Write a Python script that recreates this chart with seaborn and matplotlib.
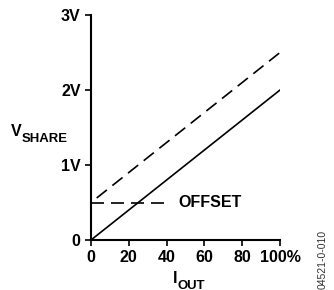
import pandas as pd
import seaborn as sns
import matplotlib.pyplot as plt

# data
iout = [0, 100]
vshare = [0.0, 2.0]
iout_offset = [3, 100]
vshare_offset = [0.56, 2.5]
offset_x = [0, 41]
offset_y = [0.5, 0.5]
x_ticks = [0, 20, 40, 60, 80, 100]
x_labels = ['0', '20', '40', '60', '80', '100%']
y_ticks = [0, 1, 2, 3]
y_labels = ['0', '1V', '2V', '3V']


def label_with_sub(fig, x, y, main, sub, fs):
    # main letter plus a bold subscript set just below its baseline
    t = fig.text(x, y, main, fontsize=fs, fontweight='bold', color='black',
                 ha='left', va='baseline')
    fig.axes[0].annotate(sub, xy=(1, 0), xycoords=t, xytext=(0.3, -1.8),
                         textcoords='offset points', fontsize=fs * 0.82,
                         fontweight='bold', color='black', ha='left',
                         va='baseline', annotation_clip=False)


def main():
    sns.set_style('white')
    plt.rcParams['font.family'] = ['Liberation Sans', 'DejaVu Sans']

    fig = plt.figure(figsize=(3.34, 2.90), dpi=100)
    ax = fig.add_axes([0.2725, 0.1724, 0.5659, 0.7759])

    df = pd.DataFrame({'x': iout, 'y': vshare})
    df_off = pd.DataFrame({'x': iout_offset, 'y': vshare_offset})
    df_lvl = pd.DataFrame({'x': offset_x, 'y': offset_y})

    sns.lineplot(data=df, x='x', y='y', ax=ax, color='black', lw=1.2)
    sns.lineplot(data=df_off, x='x', y='y', ax=ax, color='black', lw=1.2,
                 linestyle=(0, (7.8, 4.2)))
    sns.lineplot(data=df_lvl, x='x', y='y', ax=ax, color='black', lw=1.2,
                 linestyle=(0, (7.8, 4.2)))

    fs = 11.5
    ax.text(46, 0.5, 'OFFSET', fontsize=fs, fontweight='bold', va='center',
            ha='left', color='black')

    ax.set_xlim(0, 100)
    ax.set_ylim(0, 3)
    ax.set_xticks(x_ticks)
    ax.set_xticklabels(x_labels, fontsize=fs, fontweight='bold')
    ax.set_yticks(y_ticks)
    ax.set_yticklabels(y_labels, fontsize=fs, fontweight='bold')
    ax.tick_params(axis='both', direction='out', length=4.5, width=1.2,
                   color='black', labelcolor='black', pad=3,
                   bottom=True, left=True)

    for s in ['top', 'right']:
        ax.spines[s].set_visible(False)
    for s in ['left', 'bottom']:
        ax.spines[s].set_color('black')
        ax.spines[s].set_linewidth(1.5)

    ax.set_xlabel('')
    ax.set_ylabel('')
    label_with_sub(fig, 0.032, 0.531, 'V', 'SHARE', fs)
    label_with_sub(fig, 0.518, 0.024, 'I', 'OUT', fs)
    fig.text(0.965, 0.105, '04521-0-010', fontsize=7.5, rotation=90,
             va='center', ha='center', color='#333333')

    fig.savefig('out.png', dpi=100)


if __name__ == '__main__':
    main()
